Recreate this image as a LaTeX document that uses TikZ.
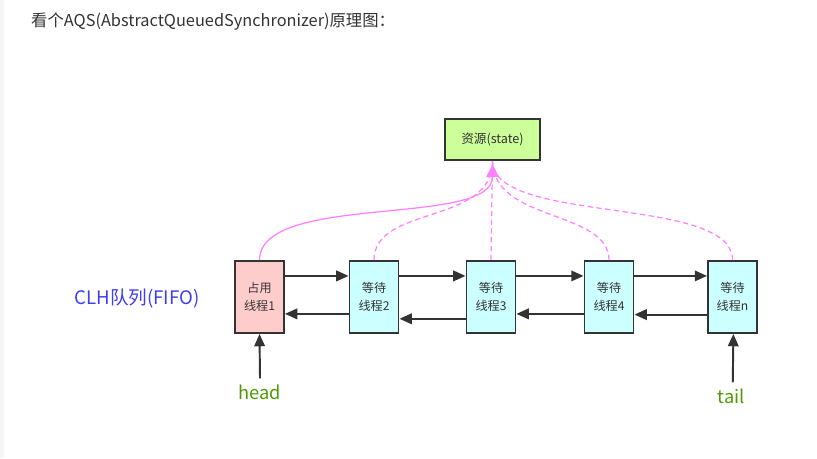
\documentclass[tikz,border=0pt]{standalone}
\usepackage{xcolor}
\usepackage{fontspec}
\setmainfont{Noto Sans CJK SC}
\usepackage{tikz}
\usetikzlibrary{shapes,arrows,arrows.meta,positioning,calc}

\definecolor{lnk}{HTML}{333333}
\definecolor{pnk}{HTML}{FF80FF}
\definecolor{grn}{HTML}{CCFF99}
\definecolor{rd}{HTML}{FFCCCC}
\definecolor{cyn}{HTML}{CCFFFF}
\definecolor{blu}{HTML}{3D3DF5}
\definecolor{ptr}{HTML}{4D9A06}

\begin{document}
\begin{tikzpicture}[
            x=0.02cm, y=-0.02cm,
            every node/.style={font=\fontsize{6.9}{10}\selectfont, text=lnk},
            thr/.style={draw=lnk, line width=1.1pt, minimum width=0.98cm, minimum height=1.44cm, align=center, inner sep=0pt},
            res/.style={draw=lnk, line width=1.1pt, fill=grn, minimum width=1.9cm, minimum height=0.82cm, font=\fontsize{7.2}{10}\selectfont},
            lk/.style={draw=lnk, line width=1.1pt, -{Triangle[length=7pt,width=6pt]}},
            ow/.style={draw=pnk, line width=0.7pt},
            wt/.style={draw=pnk, line width=0.7pt, dashed, dash pattern=on 3pt off 2pt},
        ]
            \useasboundingbox (0,0) rectangle (817,458);
            \fill[white] (0,0) rectangle (817,458);
            \fill[gray!8] (0,0) rectangle (4,458);
            \node[anchor=west, font=\fontsize{9.3}{10}\selectfont] (title) at (25,22) {看个AQS(AbstractQueuedSynchronizer)原理图：};
            \node[res] (src) at (492.5,139.5) {资源(state)};
            \node[thr, fill=rd] (t1) at (259.5,297) {占用\\线程1};
            \node[thr, fill=cyn] (t2) at (374,297) {等待\\线程2};
            \node[thr, fill=cyn] (t3) at (491,297) {等待\\线程3};
            \node[thr, fill=cyn] (t4) at (609,297) {等待\\线程4};
            \node[thr, fill=cyn] (tn) at (732.5,297) {等待\\线程n};
            \node[font=\fontsize{10.6}{12}\selectfont, text=blu] (clh) at (137,298) {CLH队列(FIFO)};
            \node[font=\fontsize{10.4}{12}\selectfont, text=ptr] (head) at (260,392) {head};
            \node[font=\fontsize{10.4}{12}\selectfont, text=ptr] (tail) at (731,396) {tail};
            % next / prev links
            \draw[lk] ([yshift=12pt]t1.east) -- ([yshift=12pt]t2.west);
            \draw[lk] ([yshift=12pt]t2.east) -- ([yshift=12pt]t3.west);
            \draw[lk] ([yshift=12pt]t3.east) -- ([yshift=12pt]t4.west);
            \draw[lk] ([yshift=12pt]t4.east) -- ([yshift=12pt]tn.west);
            \draw[lk] ([yshift=-9.6pt]t2.west) -- ([yshift=-9.6pt]t1.east);
            \draw[lk] ([yshift=-12.4pt]t3.west) -- ([yshift=-12.4pt]t2.east);
            \draw[lk] ([yshift=-9.6pt]t4.west) -- ([yshift=-9.6pt]t3.east);
            \draw[lk] ([yshift=-10pt]tn.west) -- ([yshift=-10pt]t4.east);
            % head / tail
            \draw[lk] (head.north) -- (t1.south);
            \draw[lk] ([xshift=1pt]tail.north) -- ([xshift=0.5pt]tn.south);
            % threads to resource
            \draw[wt] (t2.north) .. controls (374,205) and (493,225) .. (src.south);
            \draw[wt] (t3.north) -- (src.south);
            \draw[wt] (t4.north) .. controls (609,210) and (493,222) .. (src.south);
            \draw[wt] (tn.north) .. controls (733,195) and (493,225) .. (src.south);
            \draw[ow, -{Triangle[length=7pt,width=7pt]}, pnk] (t1.north) .. controls (260,192) and (493,228) .. ([yshift=-2pt]src.south);
        \end{tikzpicture}
\end{document}
